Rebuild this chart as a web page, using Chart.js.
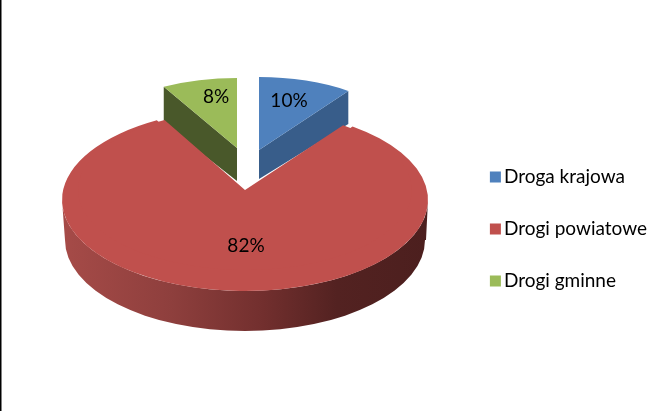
<!DOCTYPE html>
<html><head><meta charset="utf-8">
<style>html,body{margin:0;padding:0;background:#fff}#w{width:671px;height:411px;position:relative;overflow:hidden}canvas{display:block}</style>
<script src="https://cdn.jsdelivr.net/npm/chart.js@4/dist/chart.umd.min.js"></script>
</head><body><div id="w"><canvas id="c" width="671" height="411"></canvas></div>
<script>
const categories = ['Droga krajowa','Drogi powiatowe','Drogi gminne'];
const percentages = [10,82,8];
const faceColors = ['#4F81BD','#C0504D','#9BBB59'];
const wallColors = ['#385D8A','#000','#49582A'];
const FONT = 'Lato';
// top-face projection of each slice: centre and radii on the page, and label anchor
const faces = [
  {cx:259,cy:150,rx:152,ry:73,depth:29,label:[289,101]},
  {cx:245,cy:200,rx:183,ry:91,depth:40,label:[246,246]},
  {cx:237,cy:148,rx:152,ry:70,depth:33,label:[216,97]}
];
const pseudo3d = {
  id:'pseudo3d',
  beforeDatasetsDraw(chart){
    const ctx = chart.ctx, arcs = chart.getDatasetMeta(0).data;
    const drawFace = (arc,f) => {
      const R = arc.outerRadius;
      ctx.save();
      ctx.translate(f.cx,f.cy); ctx.scale(f.rx/R,f.ry/R); ctx.translate(-arc.x,-arc.y);
      arc.draw(ctx);
      ctx.restore();
    };
    const toPage = (f,a) => [f.cx+f.rx*Math.cos(a), f.cy+f.ry*Math.sin(a)];
    // exploded slices: wall along the visible cut edge, then the top face
    [2,0].forEach(i=>{
      const arc=arcs[i], f=faces[i];
      const a = i===0 ? arc.endAngle : arc.startAngle;
      const p = toPage(f,a);
      ctx.fillStyle = wallColors[i];
      ctx.beginPath();
      ctx.moveTo(f.cx,f.cy); ctx.lineTo(p[0],p[1]); ctx.lineTo(p[0],p[1]+f.depth+4); ctx.lineTo(f.cx,f.cy+f.depth);
      ctx.closePath(); ctx.fill();
      drawFace(arc,f);
    });
    // large slice: outer wall with horizontal shading, then the top face
    const red=arcs[1], f=faces[1];
    const g=ctx.createLinearGradient(f.cx-f.rx,0,f.cx+f.rx,0);
    [[0,'#A64B48'],[0.3,'#8E3F3D'],[0.55,'#722F2E'],[0.75,'#532221'],[1,'#4C1F1E']].forEach(s=>g.addColorStop(s[0],s[1]));
    ctx.fillStyle=g;
    ctx.beginPath();
    ctx.ellipse(f.cx,f.cy,f.rx,f.ry,0,Math.PI,0,true);
    ctx.lineTo(f.cx+f.rx-2,f.cy+f.depth);
    ctx.ellipse(f.cx,f.cy+f.depth,f.rx-3,f.ry,0,0,Math.PI,false);
    ctx.closePath(); ctx.fill();
    drawFace(red,f);
    drawFace(red,{cx:245,cy:190,rx:167,ry:80});
    // face-value labels
    ctx.save();
    ctx.fillStyle='#000'; ctx.font='19px '+FONT; ctx.textAlign='center'; ctx.textBaseline='middle';
    percentages.forEach((v,i)=>ctx.fillText(v+'%',faces[i].label[0],faces[i].label[1]));
    ctx.restore();
    return false;
  },
  afterDraw(chart){
    const ctx=chart.ctx;
    // legend swatches sit close to their text, as in the reference
    chart.legend.legendHitBoxes.forEach((b,i)=>{
      ctx.fillStyle=faceColors[i];
      ctx.fillRect(b.left-2.5,b.top+b.height/2-5.5,11,11);
    });
    ctx.fillStyle='#000';
    ctx.fillRect(0,0,1.5,chart.height);
  }
};
new Chart(document.getElementById('c'),{
  type:'pie',
  data:{labels:categories,datasets:[{data:percentages,backgroundColor:faceColors,borderWidth:0}]},
  options:{
    responsive:false,animation:false,
    layout:{padding:{top:47,bottom:0,right:14}},
    plugins:{
      tooltip:{enabled:false},
      legend:{position:'right',labels:{boxWidth:2,boxHeight:2,padding:33,color:'#000',font:{family:FONT,size:19}}}
    }
  },
  plugins:[pseudo3d]
});
</script></body></html>
